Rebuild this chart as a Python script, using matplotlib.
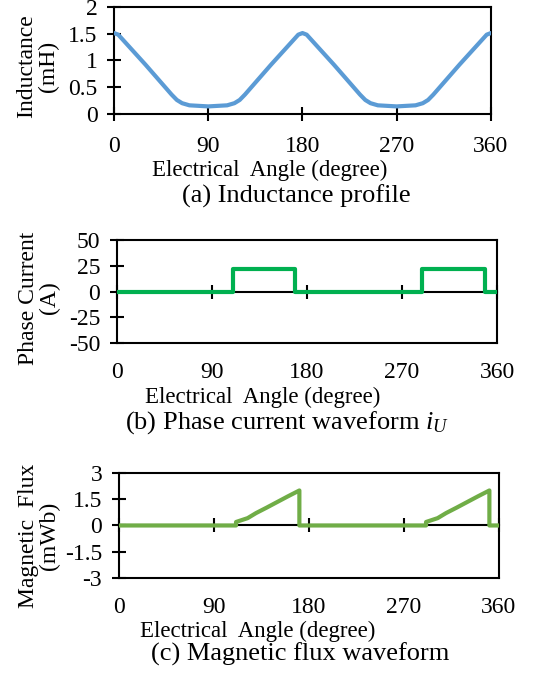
import matplotlib
matplotlib.use("Agg")
import matplotlib.pyplot as plt

plt.rcParams['font.family'] = ['Liberation Serif', 'DejaVu Serif']
plt.rcParams['mathtext.fontset'] = 'custom'
plt.rcParams['mathtext.rm'] = 'Liberation Serif'
plt.rcParams['mathtext.it'] = 'Liberation Serif:italic'

# inductance profile (mH)
theta_L = [0, 4, 30, 55, 60, 65, 72, 90, 108, 115, 120, 125, 150, 176, 180,
           184, 210, 235, 240, 245, 252, 270, 288, 295, 300, 305, 330, 356, 360]
ind_L = [1.51, 1.48, 0.92, 0.36, 0.26, 0.2, 0.16, 0.14, 0.16, 0.2, 0.26, 0.36, 0.92, 1.48, 1.51,
         1.48, 0.92, 0.36, 0.26, 0.2, 0.16, 0.14, 0.16, 0.2, 0.26, 0.36, 0.92, 1.48, 1.51]

# phase current (A)
theta_i = [0, 110, 110, 169, 169, 289, 289, 349, 349, 361]
cur_i = [0, 0, 22, 22, 0, 0, 22, 22, 0, 0]

# magnetic flux (mWb)
theta_f = [0, 111, 111, 116, 122, 130, 140, 150, 160, 171, 171,
           291, 291, 296, 302, 310, 320, 330, 340, 351, 351, 361]
flux_f = [0, 0, 0.2, 0.3, 0.42, 0.71, 1.02, 1.34, 1.66, 2.0, 0,
          0, 0.2, 0.3, 0.42, 0.71, 1.02, 1.34, 1.66, 2.0, 0, 0]

xticks = [0, 90, 180, 270, 360]
TICK_FS = 17
LAB_FS = 16.5
CAP_FS = 19
YLAB_FS = 17

fig = plt.figure(figsize=(5.33, 6.82), dpi=100)

def style(ax, yticks, ylabels):
    ax.set_xlim(0, 360)
    ax.set_ylim(yticks[0], yticks[-1])
    ax.set_yticks(yticks)
    ax.set_yticklabels(ylabels)
    for s in ax.spines.values():
        s.set_linewidth(1.5)
    ax.tick_params(axis='y', direction='inout', length=10, width=1.5, pad=7, labelsize=TICK_FS)

# (a) inductance
ax1 = fig.add_axes([0.214, 0.833, 0.707, 0.157])
ax1.plot(theta_L, ind_L, color='#5B9BD5', lw=3, zorder=3, solid_capstyle='round')
style(ax1, [0, 0.5, 1, 1.5, 2], ['0', '0.5', '1', '1.5', '2'])
ax1.set_xticks(xticks)
ax1.tick_params(axis='x', direction='inout', length=10, width=1.5, pad=11, labelsize=TICK_FS)

def mid_axis(ax):
    ax.spines['bottom'].set_position(('data', 0))
    ax.set_xticks(xticks)
    ax.tick_params(axis='x', direction='inout', length=10, width=1.5, labelbottom=False)
    sec = ax.secondary_xaxis('bottom')
    sec.set_xticks(xticks)
    sec.tick_params(length=0, pad=14, labelsize=TICK_FS)
    sec.spines['bottom'].set_linewidth(1.5)

# (b) phase current
ax2 = fig.add_axes([0.2195, 0.497, 0.713, 0.151])
ax2.plot(theta_i, cur_i, color='#00B050', lw=3, zorder=3)
style(ax2, [-50, -25, 0, 25, 50], ['-50', '-25', '0', '25', '50'])
mid_axis(ax2)

# (c) magnetic flux
ax3 = fig.add_axes([0.223, 0.1525, 0.713, 0.154])
ax3.plot(theta_f, flux_f, color='#70AD47', lw=3, zorder=3)
style(ax3, [-3, -1.5, 0, 1.5, 3], ['-3', '-1.5', '0', '1.5', '3'])
mid_axis(ax3)

H = 682.0
W = 533.0
def ftext(x, y, s, fs, **kw):
    fig.text(x / W, 1 - y / H, s, fontsize=fs, ha='center', va='center', **kw)

ftext(38, 66, 'Inductance\n(mH)', YLAB_FS, rotation=90, linespacing=1.05)
ftext(270, 170, 'Electrical  Angle (degree)', LAB_FS)
ftext(296, 196, '(a) Inductance profile', CAP_FS)

ftext(39, 298, 'Phase Current\n(A)', YLAB_FS, rotation=90, linespacing=1.05)
ftext(263, 397, 'Electrical  Angle (degree)', LAB_FS)
ftext(287, 423, '(b) Phase current waveform $i_U$', CAP_FS)

ftext(39, 536, 'Magnetic  Flux\n(mWb)', YLAB_FS, rotation=90, linespacing=1.05)
ftext(258, 631, 'Electrical  Angle (degree)', LAB_FS)
ftext(300, 654, '(c) Magnetic flux waveform', CAP_FS)

fig.savefig('out.png', dpi=100)
